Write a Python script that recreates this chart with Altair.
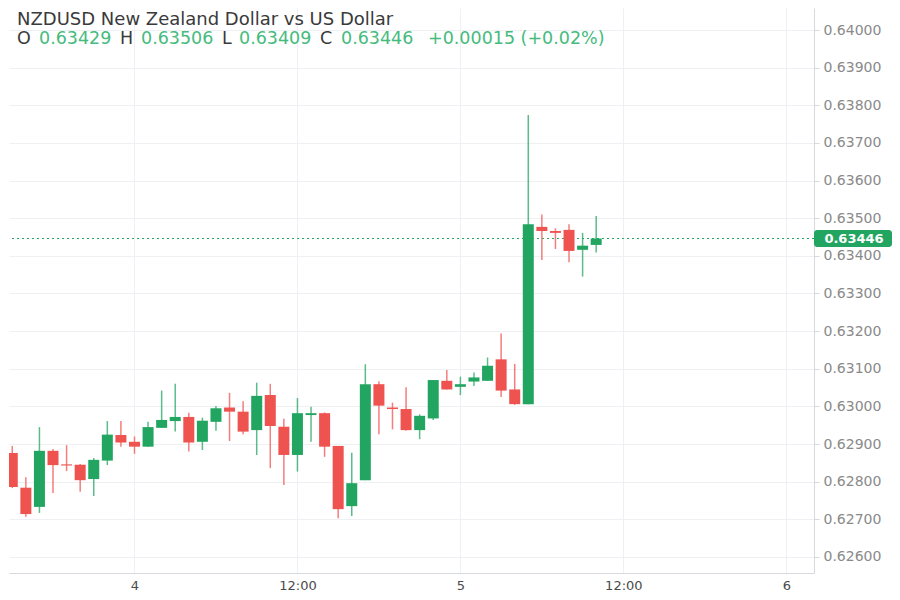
import altair as alt
import pandas as pd

# ---------------- data ----------------
opens = [0.62876, 0.62784, 0.62733, 0.62882, 0.62846, 0.62845, 0.62807, 0.62856, 0.62924, 0.62906,
         0.62893, 0.62943, 0.62961, 0.62972, 0.62906, 0.62959, 0.62997, 0.62986, 0.62937, 0.63030,
         0.62946, 0.62871, 0.62977, 0.62982, 0.62895, 0.62735, 0.62804, 0.63059, 0.62997, 0.62993,
         0.62937, 0.62968, 0.63068, 0.63052, 0.63066, 0.63068, 0.63125, 0.63045, 0.63006, 0.63477,
         0.63466, 0.63469, 0.63416, 0.63429]
closes = [0.62786, 0.62714, 0.62882, 0.62844, 0.62843, 0.62804, 0.62858, 0.62925, 0.62904, 0.62893,
          0.62945, 0.62964, 0.62972, 0.62904, 0.62962, 0.62995, 0.62986, 0.62933, 0.63028, 0.62948,
          0.62871, 0.62982, 0.62982, 0.62893, 0.62727, 0.62796, 0.63059, 0.63002, 0.62993, 0.62937,
          0.62975, 0.63070, 0.63045, 0.63059, 0.63077, 0.63108, 0.63042, 0.63006, 0.63484, 0.63466,
          0.63461, 0.63413, 0.63427, 0.63446]
highs = [0.62895, 0.62812, 0.62945, 0.62887, 0.62897, 0.62847, 0.62863, 0.62961, 0.62961, 0.62920,
         0.62959, 0.63042, 0.63060, 0.62983, 0.62970, 0.63001, 0.63036, 0.63014, 0.63063, 0.63060,
         0.62967, 0.63022, 0.62999, 0.62984, 0.62895, 0.62877, 0.63112, 0.63067, 0.63010, 0.63051,
         0.62979, 0.63070, 0.63097, 0.63079, 0.63090, 0.63130, 0.63194, 0.63113, 0.63774, 0.63510,
         0.63473, 0.63484, 0.63461, 0.63506]
lows = [0.62783, 0.62707, 0.62717, 0.62770, 0.62828, 0.62773, 0.62762, 0.62844, 0.62893, 0.62874,
        0.62893, 0.62943, 0.62933, 0.62880, 0.62884, 0.62935, 0.62908, 0.62926, 0.62871, 0.62836,
        0.62791, 0.62827, 0.62906, 0.62866, 0.62703, 0.62709, 0.62804, 0.62926, 0.62939, 0.62935,
        0.62913, 0.62964, 0.63045, 0.63030, 0.63054, 0.63068, 0.63025, 0.63004, 0.63006, 0.63389,
        0.63418, 0.63383, 0.63345, 0.63409]
# hourly bars starting 3rd 15:00 UTC
times = [t.strftime("%Y-%m-%dT%H:%M:%SZ")
         for t in pd.date_range("2023-01-03 15:00", periods=len(opens), freq="h")]

y_ticks = [0.626, 0.627, 0.628, 0.629, 0.630, 0.631, 0.632, 0.633, 0.634,
           0.635, 0.636, 0.637, 0.638, 0.639, 0.640]
x_ticks = ["2023-01-04T00:00:00Z", "2023-01-04T12:00:00Z", "2023-01-05T00:00:00Z",
           "2023-01-05T12:00:00Z", "2023-01-06T00:00:00Z"]

last_open, last_high, last_low, last_close = 0.63429, 0.63506, 0.63409, 0.63446
change_text = "+0.00015 (+0.02%)"
title_text = "NZDUSD New Zealand Dollar vs US Dollar"

# ---------------- styling ----------------
GREEN = "#23a562"
RED = "#ef5350"
TXT_GREEN = "#45bb7d"
DARK = "#3a3a3a"
GRID = "#eef0f4"
BORDER = "#d6d9e0"
FONT = "DejaVu Sans"
PLOT_W, PLOT_H = 805, 565
PX_PER_HOUR = 13.75
PX_PER_UNIT = 37640.0  # pixels per price unit (37.64 px per 0.001)


def ms(s):
    return int(pd.Timestamp(s).value // 10**6)


base = pd.Timestamp("2023-01-04T00:00:00Z")
left_h = 8.873
x_dom = [int((base - pd.Timedelta(hours=left_h)).value // 10**6),
         int((base + pd.Timedelta(hours=PLOT_W / PX_PER_HOUR - left_h)).value // 10**6)]
y_top = 0.6405845
y_dom = [y_top - PLOT_H / PX_PER_UNIT, y_top]

df = pd.DataFrame({"t": times, "open": opens, "close": closes, "high": highs, "low": lows})
df["dir"] = ["up" if c >= o else "down" for o, c in zip(opens, closes)]

xscale = alt.Scale(type="utc", domain=x_dom)
yscale = alt.Scale(domain=y_dom, zero=False, nice=False)

x_enc = alt.X("t:T", scale=xscale, title=None,
              axis=alt.Axis(values=[ms(v) for v in x_ticks],
                            labelExpr="utchours(datum.value) == 0 ? utcFormat(datum.value, '%-d') : utcFormat(datum.value, '%H:%M')",
                            grid=True, gridColor=GRID, domainColor=BORDER, ticks=False,
                            labelPadding=6, labelFont=FONT, labelFontSize=13, labelColor="#4a4a4a"))
col = alt.Color("dir:N", scale=alt.Scale(domain=["up", "down"], range=[GREEN, RED]), legend=None)

base_chart = alt.Chart(df)

wicks = base_chart.mark_rule(strokeWidth=1.5, opacity=0.75, clip=True).encode(
    x=x_enc,
    y=alt.Y("low:Q", scale=yscale, title=None,
            axis=alt.Axis(orient="right", values=y_ticks, format=".5f", grid=True, gridColor=GRID,
                          domainColor=BORDER, tickColor=BORDER, tickSize=5, labelPadding=4,
                          labelFont=FONT, labelFontSize=14, labelColor="#8a8a8a")),
    y2="high:Q",
    color=col,
)
bodies = base_chart.mark_bar(size=11, clip=True).encode(
    x=alt.X("t:T", scale=xscale),
    y=alt.Y("open:Q", scale=yscale),
    y2="close:Q",
    color=col,
)

last_df = pd.DataFrame({"p": [last_close], "lbl": [f"{last_close:.5f}"]})
price_line = alt.Chart(last_df).mark_rule(color=GREEN, strokeDash=[2, 3], strokeWidth=1).encode(
    y=alt.Y("p:Q", scale=yscale))
price_box = alt.Chart(last_df).mark_rect(color=GREEN, cornerRadius=3, yOffset=-8.5, y2Offset=8.5).encode(
    x=alt.value(805), x2=alt.value(883), y=alt.Y("p:Q", scale=yscale), y2="p:Q")
price_txt = alt.Chart(last_df).mark_text(color="white", font=FONT, fontSize=13, fontWeight="bold",
                                         align="center", baseline="middle").encode(
    x=alt.value(845), y=alt.Y("p:Q", scale=yscale), text="lbl:N")


def label(txt, px, py, color, size=17.5):
    return alt.Chart(pd.DataFrame({"s": [txt]})).mark_text(
        align="left", baseline="top", font=FONT, fontSize=size, color=color
    ).encode(x=alt.value(px), y=alt.value(py), text="s:N")


L1, L2 = 3, 21.5
texts = [
    label(title_text, 8, L1, DARK, 18),
    label("O", 8, L2, DARK),
    label(f"{last_open:.5f}", 30, L2, TXT_GREEN),
    label("H", 111, L2, DARK),
    label(f"{last_high:.5f}", 132, L2, TXT_GREEN),
    label("L", 213, L2, DARK),
    label(f"{last_low:.5f}", 230, L2, TXT_GREEN),
    label("C", 311, L2, DARK),
    label(f"{last_close:.5f}", 332, L2, TXT_GREEN),
    label(change_text, 419, L2, TXT_GREEN),
]

chart = alt.layer(price_line, wicks, bodies, price_box, price_txt, *texts).properties(
    width=PLOT_W, height=PLOT_H, padding=0
).configure_view(stroke=None)

chart.save("out.html", embed_options={"renderer": "svg", "actions": False})
